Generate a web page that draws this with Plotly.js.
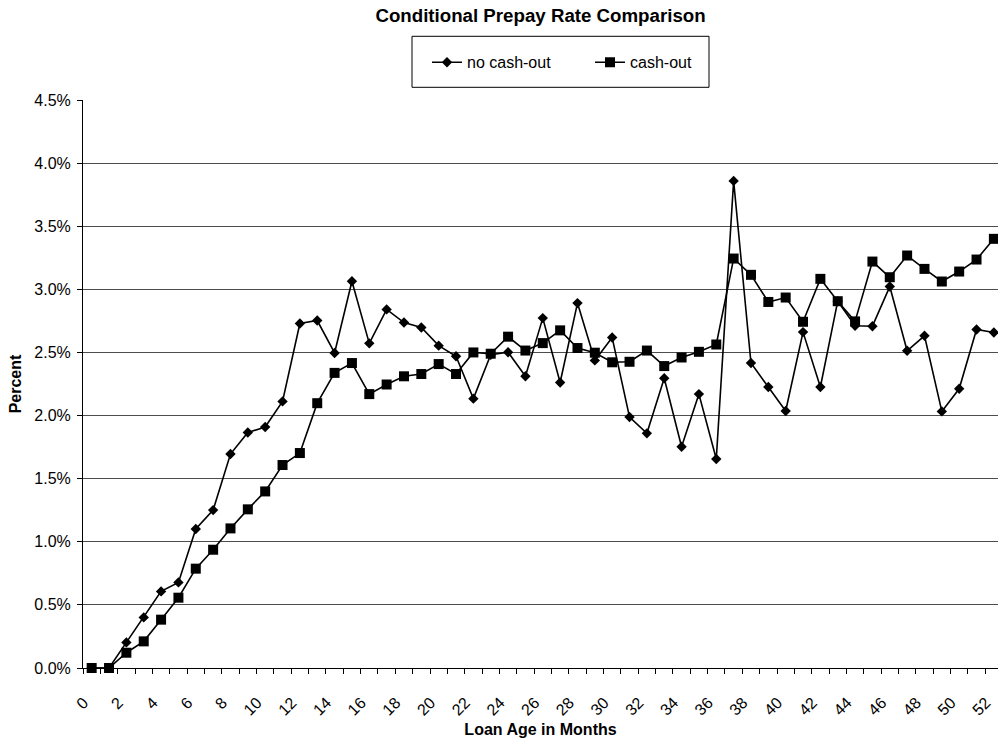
<!DOCTYPE html>
<html>
<head>
<meta charset="utf-8">
<script src="https://cdn.plot.ly/plotly-3.0.1.min.js"></script>
<style>html,body{margin:0;padding:0;background:#fff;}#chart{width:998px;height:742px;}</style>
</head>
<body>
<div id="chart"></div>
<script>
// Loan age in months (categories)
var months = [];
for (var m = 0; m <= 52; m++) months.push(m);

// Conditional prepay rate, percent
var noCashOut = [0, 0, 0.203, 0.401, 0.607, 0.678, 1.101, 1.251, 1.695, 1.866,
  1.909, 2.112, 2.729, 2.753, 2.496, 3.064, 2.572, 2.841, 2.737, 2.698,
  2.554, 2.470, 2.134, 2.482, 2.502, 2.311, 2.772, 2.262, 2.891, 2.437,
  2.618, 1.988, 1.859, 2.295, 1.753, 2.170, 1.656, 3.859, 2.416, 2.226,
  2.036, 2.661, 2.226, 2.906, 2.711, 2.708, 3.022, 2.513, 2.632, 2.033,
  2.212, 2.682, 2.658];

var cashOut = [0, 0, 0.121, 0.211, 0.383, 0.557, 0.787, 0.937, 1.106, 1.257,
  1.399, 1.608, 1.703, 2.098, 2.338, 2.416, 2.170, 2.246, 2.311, 2.329,
  2.408, 2.329, 2.500, 2.490, 2.625, 2.515, 2.574, 2.675, 2.535, 2.498,
  2.422, 2.426, 2.515, 2.392, 2.460, 2.505, 2.563, 3.244, 3.115, 2.900,
  2.935, 2.743, 3.083, 2.906, 2.746, 3.220, 3.096, 3.268, 3.162, 3.062,
  3.141, 3.236, 3.400];

var seriesNames = ['no cash-out', 'cash-out'];
var yTicks = [0, 0.5, 1.0, 1.5, 2.0, 2.5, 3.0, 3.5, 4.0, 4.5];
var yTickText = yTicks.map(function (v) { return v.toFixed(1) + '%'; });
var xTicks = months.filter(function (v) { return v % 2 === 0; });
var xTickText = xTicks.map(String);

var FONT = 'Arial, "Liberation Sans", sans-serif';

var traces = [
  {
    x: months, y: noCashOut, name: seriesNames[0], type: 'scatter', mode: 'lines+markers',
    line: {color: '#000', width: 1.6},
    marker: {symbol: 'diamond', size: 8, color: '#000'},
    cliponaxis: false
  },
  {
    x: months, y: cashOut, name: seriesNames[1], type: 'scatter', mode: 'lines+markers',
    line: {color: '#000', width: 1.6},
    marker: {symbol: 'square', size: 10, color: '#000'},
    cliponaxis: false
  }
];

var layout = {
  width: 998, height: 742,
  margin: {l: 83, r: 0, t: 100, b: 74, pad: 0},
  paper_bgcolor: '#fff', plot_bgcolor: '#fff',
  font: {family: FONT, size: 16, color: '#000'},
  showlegend: true,
  title: {
    text: 'Conditional Prepay Rate Comparison',
    font: {family: FONT, size: 18.7, color: '#000', weight: 'bold'},
    x: 0.5416, xanchor: 'center', y: 1 - 15 / 742, yanchor: 'middle'
  },
  legend: {
    orientation: 'h', xref: 'paper', yref: 'paper',
    x: (427 - 83) / 915, xanchor: 'left',
    y: (667.7 - 62) / 568, yanchor: 'middle',
    bgcolor: 'rgba(0,0,0,0)', borderwidth: 0,
    font: {family: FONT, size: 16, color: '#000'},
    entrywidth: 118, entrywidthmode: 'pixels'
  },
  shapes: [{
    type: 'rect', xref: 'paper', yref: 'paper',
    x0: (412 - 83) / 915, x1: (709 - 83) / 915,
    y0: (667.7 - 87) / 568, y1: (667.7 - 36) / 568,
    line: {color: '#000', width: 1}, fillcolor: 'rgba(0,0,0,0)'
  }],
  xaxis: {
    range: [-0.5, -0.5 + 915 / 17.35],
    tickmode: 'array', tickvals: xTicks, ticktext: xTickText,
    tickangle: -45,
    tickfont: {family: FONT, size: 16, color: '#000'},
    ticklabelstandoff: 18, ticklabelshift: -8, ticklabeloverflow: 'allow',
    ticks: '', showgrid: false, zeroline: false,
    showline: true, linecolor: '#000', linewidth: 1,
    minor: {tick0: -0.5, dtick: 1, ticks: 'outside', ticklen: 5, tickcolor: '#000', tickwidth: 1, showgrid: false},
    title: {text: 'Loan Age in Months', font: {family: FONT, size: 16, color: '#000', weight: 'bold'}, standoff: 6},
    automargin: false, fixedrange: true
  },
  yaxis: {
    range: [0, 4.5],
    tickmode: 'array', tickvals: yTicks, ticktext: yTickText,
    tickfont: {family: FONT, size: 16, color: '#000'},
    ticks: 'outside', ticklen: 5, tickcolor: '#000', tickwidth: 1,
    ticklabelstandoff: 3,
    showgrid: true, gridcolor: '#4d4d4d', gridwidth: 1,
    zeroline: false,
    showline: true, linecolor: '#000', linewidth: 1,
    title: {text: 'Percent', font: {family: FONT, size: 16, color: '#000', weight: 'bold'}, standoff: 8},
    automargin: false, fixedrange: true
  }
};

Plotly.newPlot('chart', traces, layout, {displayModeBar: false, staticPlot: true});
</script>
</body>
</html>
